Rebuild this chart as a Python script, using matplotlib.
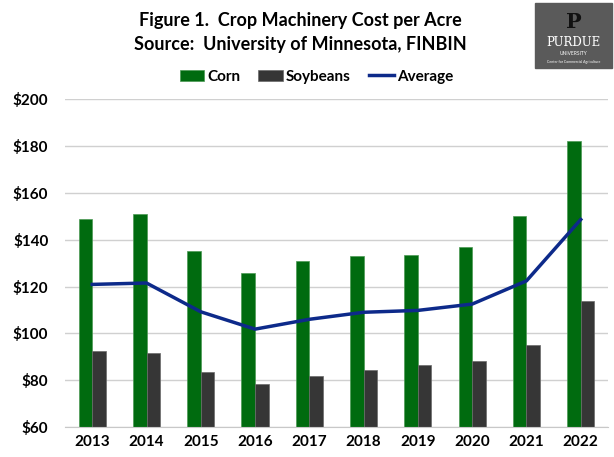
import matplotlib.pyplot as plt
import numpy as np
from matplotlib.patches import Rectangle

years = ['2013', '2014', '2015', '2016', '2017', '2018', '2019', '2020', '2021', '2022']
corn = [149, 151, 135, 125.7, 131, 133, 133.5, 136.8, 150.3, 182]
soybeans = [92.4, 91.7, 83.3, 78.5, 81.8, 84.5, 86.6, 88.2, 94.9, 114]
average = [120.9, 121.5, 109.2, 101.8, 106, 109, 109.8, 112.5, 122.4, 148.6]
yticks = [60, 80, 100, 120, 140, 160, 180, 200]

plt.rcParams['font.family'] = ['Lato', 'DejaVu Sans']

fig = plt.figure(figsize=(6.14, 4.57), dpi=100)
ax = fig.add_axes([0.106, 0.0656, 0.884, 0.7174])

x = np.arange(len(years))
w = 0.25
b1 = ax.bar(x - w / 2, corn, w, color='#006b0f', edgecolor='#4c9a55', linewidth=0.5,
            label='Corn', zorder=2)
b2 = ax.bar(x + w / 2, soybeans, w, color='#363636', edgecolor='#6a6a6a', linewidth=0.5,
            label='Soybeans', zorder=2)
l1, = ax.plot(x, average, color='#0d2a8a', linewidth=2.5, label='Average', zorder=3)

ax.set_xlim(-0.5, len(years) - 0.5)
ax.set_ylim(60, 200)
ax.set_yticks(yticks)
ax.set_yticklabels([f'${v}' for v in yticks], fontweight='bold', fontsize=11)
ax.set_xticks(x)
ax.set_xticklabels(years, fontweight='bold', fontsize=11)
ax.grid(axis='y', color='#d0d0d0', linewidth=1, zorder=0)
ax.tick_params(length=0, pad=12)
ax.tick_params(axis='x', pad=6)
for s in ['top', 'right', 'left']:
    ax.spines[s].set_visible(False)
ax.spines['bottom'].set_color('#c8c8c8')

fig.text(0.49, 0.955, 'Figure 1.  Crop Machinery Cost per Acre', ha='center', va='center',
         fontsize=13, fontweight='bold')
fig.text(0.49, 0.903, 'Source:  University of Minnesota, FINBIN', ha='center', va='center',
         fontsize=13, fontweight='bold')
fig.legend([b1, b2, l1], ['Corn', 'Soybeans', 'Average'], loc='center',
           bbox_to_anchor=(0.515, 0.832), ncol=3, frameon=False,
           prop={'weight': 'bold', 'size': 11}, handlelength=1.6,
           handletextpad=0.2, columnspacing=1.2)

# logo box
fig.patches.append(Rectangle((0.872, 0.851), 0.125, 0.142, transform=fig.transFigure,
                             color='#5a5a5a', zorder=5))
fig.text(0.934, 0.952, 'P', ha='center', va='center', fontsize=15, fontweight='bold',
         color='#111111', family='DejaVu Serif', zorder=6)
fig.text(0.934, 0.906, 'PURDUE', ha='center', va='center', fontsize=8.5,
         color='white', family='DejaVu Serif', zorder=6)
fig.text(0.934, 0.884, 'UNIVERSITY', ha='center', va='center', fontsize=3.5,
         color='white', zorder=6)
fig.text(0.934, 0.865, 'Center for Commercial Agriculture', ha='center', va='center',
         fontsize=2.5, color='white', zorder=6)

fig.savefig('out.png', dpi=100)
